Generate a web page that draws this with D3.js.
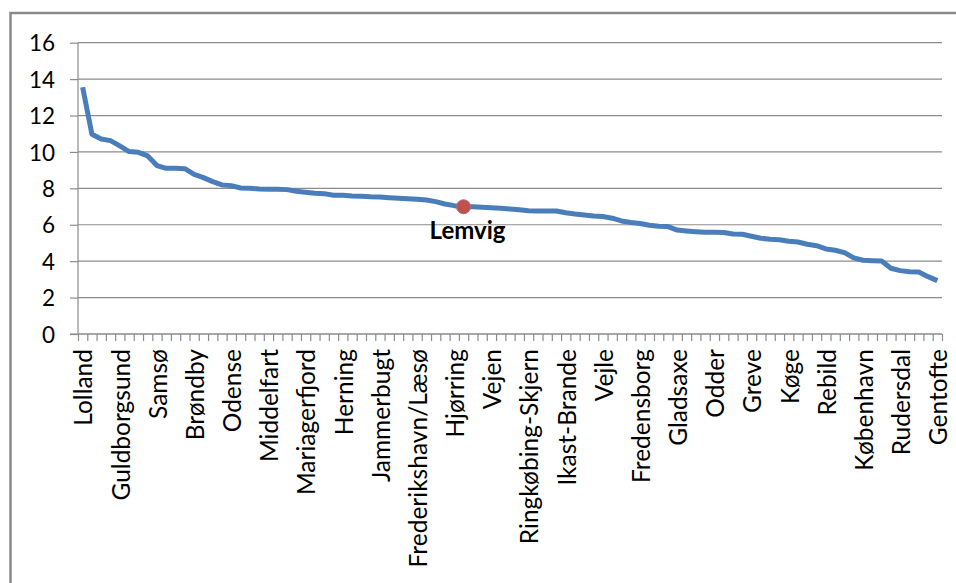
<!DOCTYPE html>
<html>
<head>
<meta charset="utf-8">
<script src="https://cdn.jsdelivr.net/npm/d3@7"></script>
<style>
  body { margin: 0; background: #fff; }
  svg { display: block; }
  text { font-family: Lato, "Noto Sans", sans-serif; fill: #000; }
</style>
</head>
<body>
<div id="chart"></div>
<script>
// values per municipality, sorted high to low (93 categories)
const values = [
  13.55, 10.97, 10.71, 10.62, 10.33, 10.02, 9.98, 9.78, 9.25, 9.10,
  9.10, 9.08, 8.77, 8.59, 8.37, 8.19, 8.15, 8.02, 8.01, 7.97,
  7.95, 7.95, 7.93, 7.84, 7.79, 7.73, 7.71, 7.62, 7.62, 7.58,
  7.57, 7.54, 7.53, 7.49, 7.46, 7.43, 7.40, 7.36, 7.27, 7.14,
  7.05, 6.99, 6.99, 6.96, 6.94, 6.91, 6.87, 6.83, 6.77, 6.76,
  6.76, 6.76, 6.66, 6.59, 6.54, 6.48, 6.45, 6.36, 6.21, 6.12,
  6.07, 5.97, 5.92, 5.90, 5.71, 5.66, 5.62, 5.59, 5.59, 5.57,
  5.49, 5.48, 5.37, 5.26, 5.20, 5.18, 5.09, 5.05, 4.93, 4.85,
  4.67, 4.60, 4.47, 4.18, 4.05, 4.03, 4.01, 3.61, 3.48, 3.42,
  3.41, 3.15, 2.93
];

// only every 4th category carries a label in the chart
const tickLabels = [
  "Lolland", "Guldborgsund", "Samsø", "Brøndby", "Odense", "Middelfart",
  "Mariagerfjord", "Herning", "Jammerbugt", "Frederikshavn/Læsø", "Hjørring",
  "Vejen", "Ringkøbing-Skjern", "Ikast-Brande", "Vejle", "Fredensborg",
  "Gladsaxe", "Odder", "Greve", "Køge", "Rebild", "København", "Rudersdal",
  "Gentofte"
];
const labelStep = 4;

const highlight = { index: 41, name: "Lemvig" };

const yTicks = [0, 2, 4, 6, 8, 10, 12, 14, 16];

const width = 956, height = 583;
const plot = { left: 78, right: 942, top: 42.7, bottom: 334 };

const svg = d3.select("#chart").append("svg")
    .attr("width", width)
    .attr("height", height);

// chart area frame (only left and top edges are inside the picture)
svg.append("rect")
    .attr("x", 10.5).attr("y", 13)
    .attr("width", 1000).attr("height", 700)
    .attr("fill", "none")
    .attr("stroke", "#8a8a8a")
    .attr("stroke-width", 2.5);

const x = d3.scaleBand()
    .domain(d3.range(values.length))
    .range([plot.left, plot.right]);

const xEdges = d3.scaleLinear()
    .domain([0, values.length])
    .range([plot.left, plot.right]);

const y = d3.scaleLinear()
    .domain([0, 16])
    .range([plot.bottom, plot.top]);

// gridlines
svg.append("g")
    .selectAll("line")
    .data(yTicks)
    .enter()
    .append("line")
    .attr("x1", plot.left).attr("x2", plot.right)
    .attr("y1", d => y(d)).attr("y2", d => y(d))
    .attr("stroke", "#8c8c8c")
    .attr("stroke-width", 1.2);

// y axis
const yAxis = svg.append("g")
    .attr("transform", `translate(${plot.left},0)`)
    .call(d3.axisLeft(y).tickValues(yTicks).tickSize(8).tickPadding(15));
yAxis.selectAll("line, path").attr("stroke", "#8c8c8c").attr("stroke-width", 1.2);
yAxis.select("path").attr("d", `M0,${plot.top}V${plot.bottom}`);
yAxis.selectAll("text")
    .style("font-size", "22.5px")
    .attr("dy", "0.36em");

// x axis: tick marks at category edges
const xTickAxis = svg.append("g")
    .attr("transform", `translate(0,${plot.bottom})`)
    .call(d3.axisBottom(xEdges)
        .tickValues(d3.range(values.length + 1))
        .tickSize(7)
        .tickFormat(""));
xTickAxis.selectAll("line, path").attr("stroke", "#8c8c8c").attr("stroke-width", 1.2);
xTickAxis.select("path").attr("d", `M${plot.left - 8},0H${plot.right}`);

// x axis: rotated labels on every 4th category
const xLabelAxis = svg.append("g")
    .attr("transform", `translate(0,${plot.bottom})`)
    .call(d3.axisBottom(x)
        .tickValues(d3.range(0, values.length, labelStep))
        .tickSize(0)
        .tickFormat(i => tickLabels[i / labelStep]));
xLabelAxis.select("path").remove();
xLabelAxis.selectAll("text")
    .style("font-size", "24.5px")
    .attr("text-anchor", "end")
    .attr("transform", "rotate(-90)")
    .attr("x", -15)
    .attr("y", 1)
    .attr("dy", "0.36em");

// line
const line = d3.line()
    .x((d, i) => x(i) + x.bandwidth() / 2)
    .y(d => y(d));

svg.append("path")
    .datum(values)
    .attr("d", line)
    .attr("fill", "none")
    .attr("stroke", "#4a7ebb")
    .attr("stroke-width", 5)
    .attr("stroke-linejoin", "round");

// highlighted municipality
const hx = x(highlight.index) + x.bandwidth() / 2;
const hy = y(values[highlight.index]);
svg.append("circle")
    .attr("cx", hx).attr("cy", hy)
    .attr("r", 7)
    .attr("fill", "#c0504d")
    .attr("stroke", "#a8707a")
    .attr("stroke-width", 1);

svg.append("text")
    .attr("x", hx + 4)
    .attr("y", hy + 32)
    .attr("text-anchor", "middle")
    .style("font-size", "24px")
    .style("font-weight", "bold")
    .text(highlight.name);
</script>
</body>
</html>
